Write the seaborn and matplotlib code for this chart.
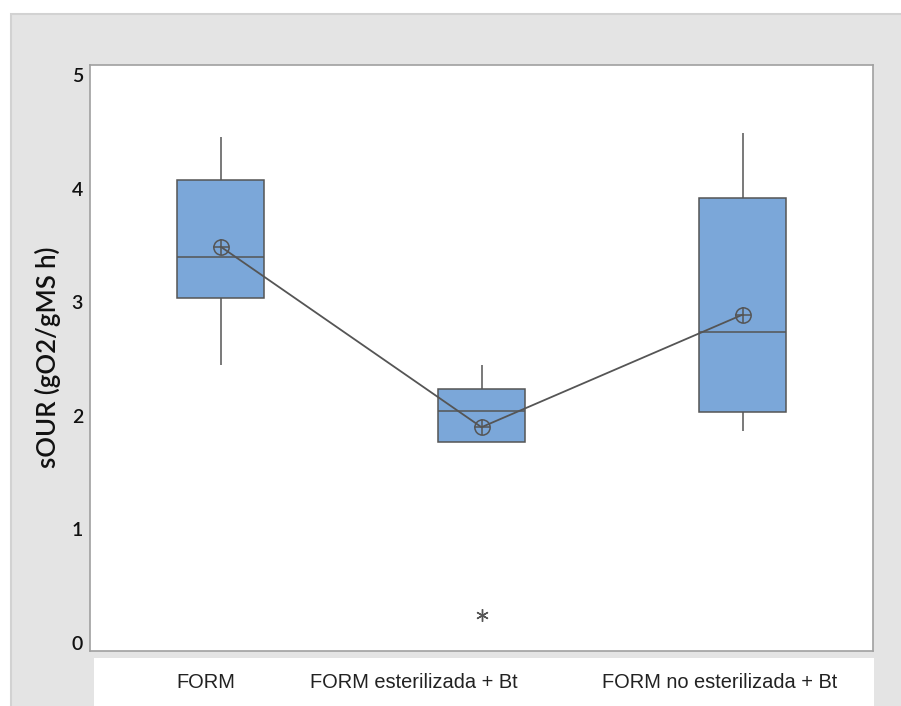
import pandas as pd
import matplotlib
matplotlib.use('Agg')
import matplotlib.pyplot as plt
import matplotlib.transforms as mtransforms
from matplotlib.patches import Rectangle
import seaborn as sns

grupos = ['FORM', 'FORM esterilizada + Bt', 'FORM no esterilizada + Bt']
obs_form = [2.45, 3.04, 3.40, 4.08, 4.45]
obs_est = [0.25, 1.77, 1.77, 2.04, 2.24, 2.24, 2.45]
obs_noest = [1.87, 2.03, 2.74, 3.92, 4.49]
# means shown as circled-plus symbols
medias = [3.49, 1.90, 2.89]

df = pd.DataFrame({
    'grupo': [grupos[0]] * len(obs_form) + [grupos[1]] * len(obs_est) + [grupos[2]] * len(obs_noest),
    'sOUR': obs_form + obs_est + obs_noest,
})
df_medias = pd.DataFrame({'grupo': grupos, 'media': medias})

sns.set_style('white')
plt.rcParams['font.family'] = ['Lato', 'DejaVu Sans']

fig = plt.figure(figsize=(9.01, 7.06), dpi=100)
W, H = 901, 706

# minitab-like grey panel + white strip for the category labels
fig.add_artist(Rectangle((11 / W, -0.1), 1, (H - 14) / H + 0.1, transform=fig.transFigure,
                         facecolor='#e4e4e4', edgecolor='#d2d2d2', lw=1.5, zorder=0))
fig.add_artist(Rectangle((94 / W, 0), (874 - 94) / W, (H - 658) / H, transform=fig.transFigure,
                         facecolor='white', edgecolor='none', zorder=0.5))

ax = fig.add_axes([90 / W, (H - 651) / H, (873 - 90) / W, (651 - 65) / H])
ax.set_zorder(2)
ax.set_facecolor('white')

linea = '#555555'
sns.boxplot(data=df, x='grupo', y='sOUR', order=grupos, color='#7ba7d9', saturation=1,
            width=0.333, linecolor=linea, linewidth=1.1, showcaps=False,
            flierprops=dict(marker=(6, 2, 0), markersize=9, markeredgecolor=linea,
                            markeredgewidth=1.0),
            ax=ax)
sns.pointplot(data=df_medias, x='grupo', y='media', order=grupos, color=linea,
              errorbar=None, markers='o', linestyles='-', markersize=11,
              markerfacecolor='none', markeredgewidth=1.1, linewidth=1.3, ax=ax)
sns.pointplot(data=df_medias, x='grupo', y='media', order=grupos, color=linea,
              errorbar=None, markers='+', linestyles='none', markersize=11,
              markeredgewidth=1.1, ax=ax)

ax.set_xlim(-0.5, 2.5)
ax.set_ylim(-0.07, 5.088)
ax.set_yticks([0, 1, 2, 3, 4, 5])

for s in ax.spines.values():
    s.set_visible(True)
    s.set_color('#a0a0a0')
    s.set_linewidth(1.2)

ax.tick_params(axis='y', length=3, width=1, color='#a0a0a0', pad=2,
               labelsize=14, labelcolor='#111111')
for t in ax.get_yticklabels():
    t.set_fontweight('semibold')
ax.tick_params(axis='x', length=5, width=1, color='#a0a0a0', pad=11,
               labelsize=14.4, labelcolor='#222222')

ax.set_xticks(range(3))
ax.set_xticklabels(grupos, family=['Liberation Sans', 'DejaVu Sans'])
# minitab draws the labels slightly left of the ticks
desplaz = [-15, -68, -23]
for t, dx in zip(ax.get_xticklabels(), desplaz):
    t.set_transform(t.get_transform() + mtransforms.ScaledTranslation(dx / 100, 0, fig.dpi_scale_trans))

ax.set_xlabel('')
ax.set_ylabel('sOUR (gO2/gMS h)', fontsize=18.5, fontweight='semibold', color='#111111', va='center')
ax.yaxis.set_label_coords((48 - 90) / 783, (651 - 357) / 586)

fig.savefig('out.png', dpi=100, facecolor='white')
